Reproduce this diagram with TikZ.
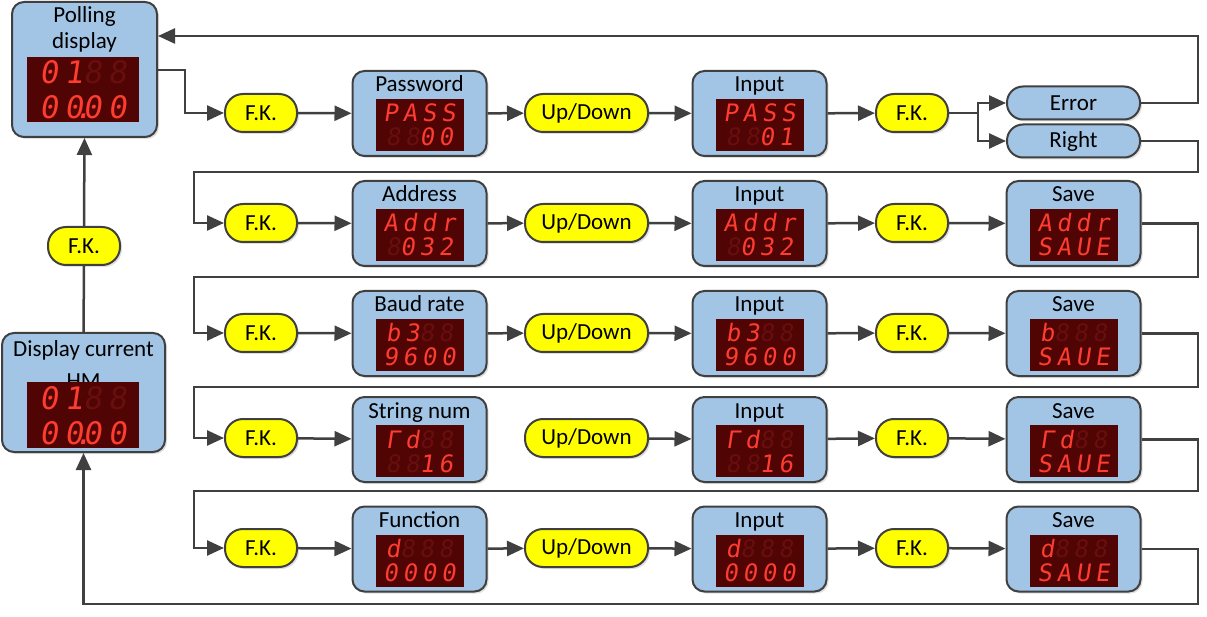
\documentclass[tikz,border=0pt]{standalone}
\usepackage{fontspec}
\setmainfont{Carlito}
\newfontfamily\ledfont{DejaVu Sans Mono}[FakeSlant=0.15,LetterSpace=20]
\usetikzlibrary{arrows.meta,shadows}
\definecolor{panelblue}{RGB}{163,197,229}
\definecolor{keyyellow}{RGB}{255,255,0}
\definecolor{edgegray}{RGB}{64,64,64}
\definecolor{screenred}{RGB}{80,4,4}
\definecolor{ledon}{RGB}{255,60,48}
\definecolor{ledoff}{RGB}{104,14,14}
\newcommand{\dimled}[1]{\textcolor{ledoff}{#1}}
\tikzset{
  >={Triangle[length=17pt,width=15pt]},
}
\tikzstyle{every node}=[font=\fontsize{23}{27}\selectfont]
\tikzstyle{flow}=[line width=2.5pt,draw=edgegray,->]
\tikzstyle{link}=[line width=2.5pt,draw=edgegray]
\tikzstyle{panel}=[draw=edgegray,line width=2pt,fill=panelblue,rounded corners=12pt,
  minimum width=134pt,minimum height=85pt,
  drop shadow={opacity=0.25,shadow xshift=2pt,shadow yshift=-2pt}]
\tikzstyle{key}=[draw=edgegray,line width=2pt,fill=keyyellow,rounded corners=18pt,
  minimum width=72pt,minimum height=38pt,inner sep=0pt,
  drop shadow={opacity=0.25,shadow xshift=2pt,shadow yshift=-2pt}]
\tikzstyle{state}=[draw=edgegray,line width=2pt,fill=panelblue,rounded corners=16pt,
  minimum width=133pt,minimum height=33pt,inner sep=0pt,
  drop shadow={opacity=0.25,shadow xshift=2pt,shadow yshift=-2pt}]
\tikzstyle{title}=[anchor=base,inner sep=0pt]
\tikzstyle{screen}=[fill=screenred,minimum width=88pt,minimum height=52pt,inner sep=0pt]
\tikzstyle{lit}=[anchor=base,inner sep=0pt,text=ledon,font=\ledfont\fontsize{24}{24}\selectfont]
\tikzstyle{big}=[font=\ledfont\fontsize{31}{31}\selectfont]

% name, centre, title, top line, bottom line
\newcommand{\ledpanel}[5]{%
  \node[panel] (#1) at (#2) {};
  \node[title] at ([yshift=-22pt]#1.north) {#3};
  \node[screen] (#1s) at ([yshift=-55pt]#1.north) {};
  \node[lit] at ([yshift=3pt]#1s.center) {#4};
  \node[lit] at ([yshift=-21pt]#1s.center) {#5};
}

\begin{document}
\begin{tikzpicture}[x=1pt,y=-1pt]
\useasboundingbox (0,0) rectangle (1207,617);

% left column
\node[panel,minimum width=145pt,minimum height=135pt] (poll) at (84.5,69.5) {};
\node[align=center,font=\fontsize{23}{26}\selectfont] at (84.5,29) {Polling\\display};
\node[screen,minimum width=112pt,minimum height=65pt] (polls) at (83,89.5) {};
\node[lit,big] at ([yshift=6pt]polls.center) {01\dimled{88}};
\node[lit,big] at ([yshift=-29pt]polls.center) {00\makebox[0pt]{.}00};

\node[key] (fk0) at (84,246) {F.K.};

\node[panel,minimum width=163pt,minimum height=119pt] (hm) at (83.5,392.5) {};
\node[align=center,font=\fontsize{23}{32}\selectfont] at (83.5,365) {Display current\\HM};
\node[screen,minimum width=112pt,minimum height=66pt] (hms) at (83,415) {};
\node[lit,big] at ([yshift=6pt]hms.center) {01\dimled{88}};
\node[lit,big] at ([yshift=-29pt]hms.center) {00\makebox[0pt]{.}00};

% keys of every row
\foreach \r/\y in {1/113,2/223,3/333,4/438,5/548} {
  \node[key] (fka\r) at (261,\y) {F.K.};
  \node[key,minimum width=123pt] (ud\r) at (586.5,\y) {Up/Down};
  \node[key] (fkb\r) at (912,\y) {F.K.};
}

% row 1
\ledpanel{set1}{419.5,113.5}{Password}{PASS}{\dimled{88}00}
\ledpanel{in1}{759.5,113.5}{Input}{PASS}{\dimled{88}01}
\node[state] (err) at (1073.5,103) {Error};
\node[state] (right) at (1073.5,141) {Right};
% row 2
\ledpanel{set2}{419.5,223.5}{Address}{Addr}{\dimled{8}032}
\ledpanel{in2}{759.5,223.5}{Input}{Addr}{\dimled{8}032}
\ledpanel{save2}{1073.5,223.5}{Save}{Addr}{SAUE}
% row 3
\ledpanel{set3}{419.5,333.5}{Baud rate}{b3\dimled{88}}{9600}
\ledpanel{in3}{759.5,333.5}{Input}{b3\dimled{88}}{9600}
\ledpanel{save3}{1073.5,333.5}{Save}{b\dimled{888}}{SAUE}
% row 4
\ledpanel{set4}{419.5,439.5}{String num}{Γd\dimled{88}}{\dimled{88}16}
\ledpanel{in4}{759.5,439.5}{Input}{Γd\dimled{88}}{\dimled{88}16}
\ledpanel{save4}{1073.5,439.5}{Save}{Γd\dimled{88}}{SAUE}
% row 5
\ledpanel{set5}{419.5,549}{Function}{d\dimled{888}}{0000}
\ledpanel{in5}{759.5,549}{Input}{d\dimled{888}}{0000}
\ledpanel{save5}{1073.5,549}{Save}{d\dimled{888}}{SAUE}

% connectors
\draw[link] (hm.north) -- (fk0.south);
\draw[flow] (fk0.north) -- (poll.south);
\draw[flow] (poll.east |- 0,70) -| ([xshift=-39pt]fka1.west) -- (fka1.west);
\foreach \r in {1,...,5} {
  \draw[flow] (fka\r) -- (set\r);
  \draw[flow] (ud\r) -- (in\r);
  \draw[flow] (in\r) -- (fkb\r);
}
\foreach \r in {1,2,3,5} \draw[flow] (set\r) -- (ud\r);
\foreach \r in {2,...,5} \draw[flow] (fkb\r) -- (save\r);

\coordinate (split) at (978,113);
\draw[link] (fkb1.east) -- (split);
\draw[flow] (split) |- (err.west);
\draw[flow] (split) |- (right.west);
\draw[flow] (err.east) -| (1198,36) -- (poll.east |- 0,36);
\draw[flow] (right.east) -| (1198,172) -- (194,172) |- (fka2.west);
\foreach \r/\n/\ya in {2/3/277,3/4/387,4/5/491}
  \draw[flow] (save\r.east) -| (1198,\ya) -- (194,\ya) |- (fka\n.west);
\draw[flow] (save5.east) -| (1198,604) -| (hm.south);
\end{tikzpicture}
\end{document}
